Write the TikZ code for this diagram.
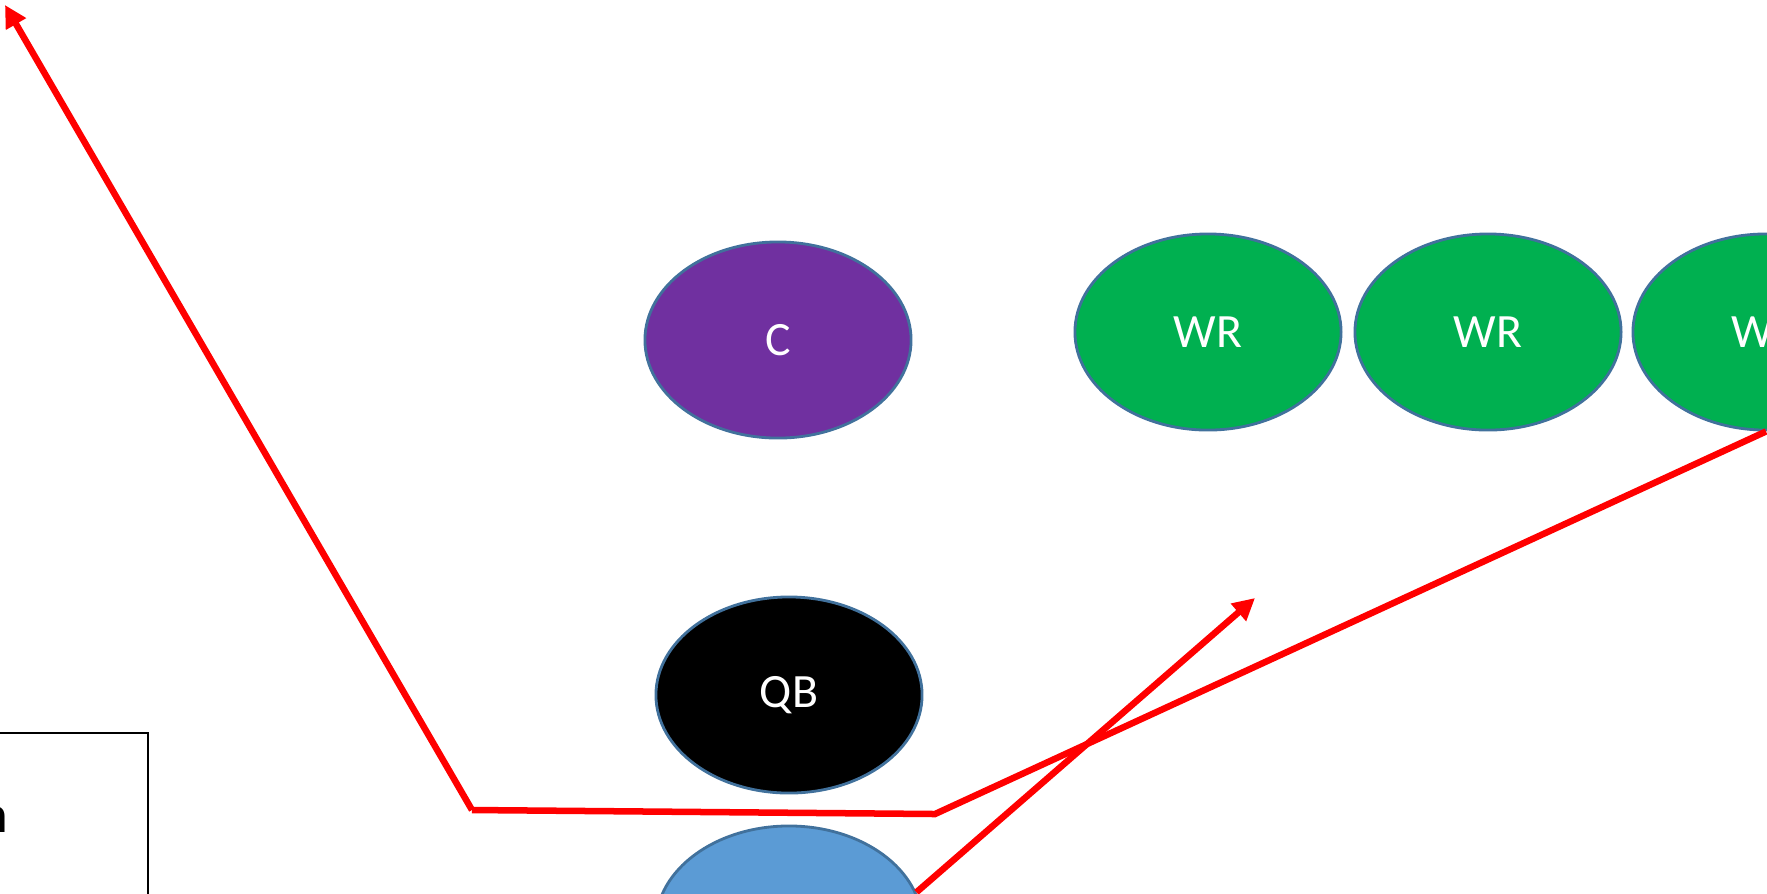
\documentclass[tikz,border=0pt]{standalone}
\usepackage{fontspec}
\setmainfont{Carlito}
\usetikzlibrary{shapes.geometric,arrows.meta}
\definecolor{rim}{HTML}{41719C}
\definecolor{ppurple}{HTML}{7030A0}
\definecolor{pgreen}{HTML}{00B050}
\definecolor{pblue}{HTML}{5B9BD5}
\begin{document}
\begin{tikzpicture}[x=0.01cm,y=-0.01cm,
    player/.style={ellipse, draw=rim, line width=0.8pt, minimum width=2.66cm,
      minimum height=1.96cm, inner sep=0pt, text=white,
      font=\fontsize{13.6}{16}\selectfont},
    route/.style={draw=red, line width=0.065cm},
    head/.style={-{Triangle[length=0.22cm,width=0.22cm]}}]
    \useasboundingbox (0,0) rectangle (1767,893);
    \clip (0,0) rectangle (1767,893);
    \node[player, fill=ppurple] (c) at (778,340) {C};
    \node[player, fill=pgreen] (wra) at (1208,332) {WR};
    \node[player, fill=pgreen] (wrb) at (1488,332) {WR};
    \node[player, fill=pgreen] (wrc) at (1766,332) {WR};
    \node[player, fill=black] (qb) at (789,695) {QB};
    \node[player, fill=pblue] (bk) at (789,924) {};
    \draw[line width=0.022cm] (-10,733) -- (148,733) -- (148,900);
    \node[anchor=base east, inner sep=0pt, font=\fontsize{15}{18}\selectfont] (key) at (9,832) {n};
    \coordinate (deep) at (5,5);
    \coordinate (cutl) at (472,810);
    \coordinate (cutr) at (935,814);
    \coordinate (flat) at (1255,598);
    \draw[route] (cutl) -- (cutr) -- (wrc.south);
    \draw[route, head] (cutl) -- (deep);
    \draw[route, head] (bk.14) -- (flat);
  \end{tikzpicture}
\end{document}
